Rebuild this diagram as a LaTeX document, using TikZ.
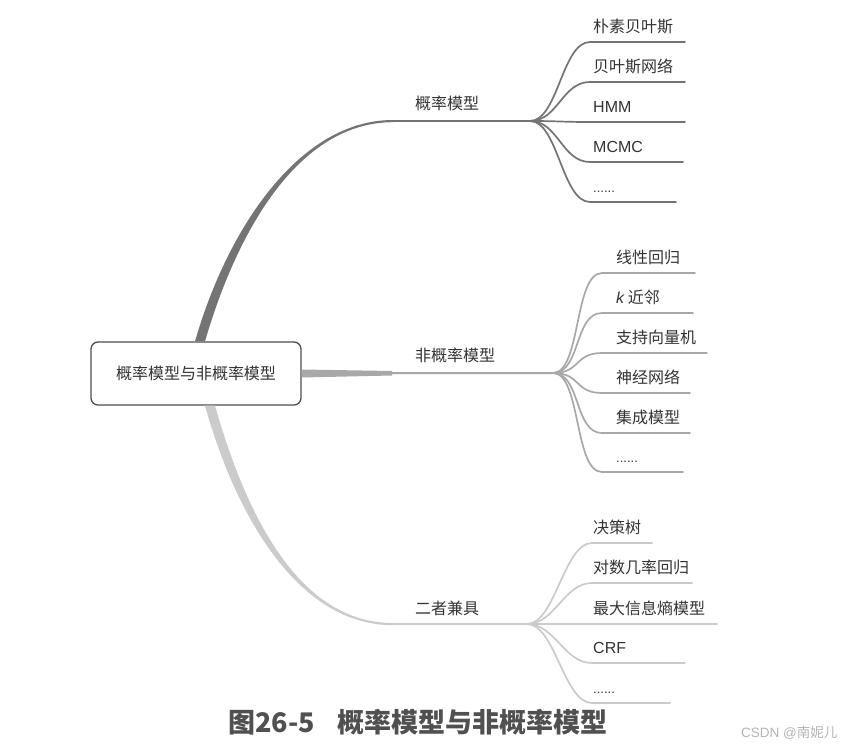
\documentclass[tikz,border=0pt]{standalone}
\usepackage{fontspec}
\setmainfont{Noto Sans CJK SC}
\newfontfamily\latn{Liberation Sans}
\newcommand{\leafdots}{{\latn\fontsize{13}{16}\selectfont ......}}
\definecolor{inkgray}{HTML}{333333}
\definecolor{boxgray}{HTML}{4D4D4D}
\definecolor{probgray}{HTML}{747474}
\definecolor{nonprobgray}{HTML}{A8A8A8}
\definecolor{bothgray}{HTML}{CBCBCB}
\definecolor{capgray}{HTML}{505050}
\definecolor{markgray}{HTML}{B4B4B4}

\begin{document}
\begin{tikzpicture}[
  x=1pt, y=-1pt,
  topic/.style={draw=boxgray, line width=1.3pt, rounded corners=7pt, minimum width=210pt, minimum height=63pt, inner sep=0pt, font=\fontsize{16}{19}\selectfont, text=inkgray},
  subtopic/.style={anchor=base west, inner sep=0pt, font=\fontsize{16}{19}\selectfont, text=inkgray},
  leaf/.style={anchor=base west, inner sep=0pt, font=\fontsize{16}{19}\selectfont, text=inkgray},
  twig/.style={line width=1.7pt, line cap=round}
]
  \useasboundingbox (0,0) rectangle (855,749);
  \node[topic] (root) at (196,373.5) {概率模型与非概率模型};

  % forks
  \coordinate (f1) at (530,121);
  \coordinate (f2) at (553,373);
  \coordinate (f3) at (527,624);

  % main branches
  \fill[probgray] ([xshift=-1pt]root.north) .. controls (228,227) and (300,120) .. (393,120)
    -- (393,122.2) .. controls (300,122.2) and (238,228) .. ([xshift=9pt]root.north) -- cycle;
  \draw[probgray, line width=2pt] (393,121) -- (f1);
  \fill[nonprobgray] ([yshift=4pt]root.east) -- (392,371) -- (392,375.5) -- ([yshift=-4pt]root.east) -- cycle;
  \draw[nonprobgray, line width=2pt] (392,373.2) -- (f2);
  \fill[bothgray] ([xshift=9pt]root.south) .. controls (237,520) and (300,625.2) .. (393,625.2)
    -- (393,623) .. controls (300,623) and (247,518) .. ([xshift=19pt]root.south) -- cycle;
  \draw[bothgray, line width=2pt] (393,624) -- (f3);

  \node[subtopic] (prob) at (415,110) {概率模型};
  \node[subtopic] (nonprob) at (415,361) {非概率模型};
  \node[subtopic] (both) at (415,614) {二者兼具};

  % leaves
  \foreach \txt/\ly/\lx [count=\i] in {朴素贝叶斯/42/685, 贝叶斯网络/82/685, {\latn HMM}/122/685, {\latn MCMC}/162/683, \leafdots/202/676}{
    \coordinate (pl\i) at (590,\ly);
    \coordinate (pr\i) at (\lx,\ly);
    \node[leaf] (p\i) at (593,\ly-9.5) {\txt};
    \draw[twig, probgray] (f1) .. controls +(28,0) and +(-28,0) .. (pl\i) -- (pr\i);
  }
  \foreach \txt/\ly/\lx [count=\i] in {线性回归/273/695, {\latn\itshape k} 近邻/313/693, 支持向量机/353/707, 神经网络/393/690, 集成模型/433/690, \leafdots/472/683}{
    \coordinate (nl\i) at (602,\ly);
    \coordinate (nr\i) at (\lx,\ly);
    \node[leaf] (n\i) at (616,\ly-9.5) {\txt};
    \draw[twig, nonprobgray] (f2) .. controls +(28,0) and +(-28,0) .. (nl\i) -- (nr\i);
  }
  \foreach \txt/\ly/\lx [count=\i] in {决策树/543/652, 对数几率回归/583/692, 最大信息熵模型/624/717, {\latn CRF}/663/685, \leafdots/703/670}{
    \coordinate (bl\i) at (592,\ly);
    \coordinate (br\i) at (\lx,\ly);
    \node[leaf] (b\i) at (593,\ly-9.5) {\txt};
    \draw[twig, bothgray] (f3) .. controls +(28,0) and +(-28,0) .. (bl\i) -- (br\i);
  }

  \node[anchor=base west, inner sep=0pt, font=\fontsize{27}{30}\selectfont\bfseries, text=capgray] (caption) at (228,732) {图26-5\hspace{0.85em}概率模型与非概率模型};
  \node[anchor=base west, inner sep=0pt, font=\fontsize{13.5}{16}\selectfont, text=markgray] (mark) at (741,737) {{\latn CSDN @}南妮儿};
\end{tikzpicture}
\end{document}
